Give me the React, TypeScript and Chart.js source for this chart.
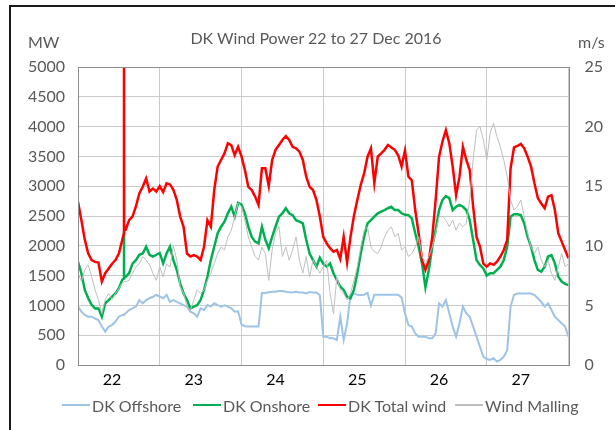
import { useEffect, useRef } from "react";
import { Chart, registerables } from "chart.js";

Chart.register(...registerables);

const dayLabels = ["22", "23", "24", "25", "26", "27"];

// hours since 22 Dec 00:00 (a short spike lies between hour 13 and 14)
const hours = [
  0, 1, 2, 3, 4, 5, 6, 7, 8, 9, 10, 11, 12, 13, 13.45, 13.5, 13.55,
  14, 15, 16, 17, 18, 19, 20, 21, 22, 23, 24, 25, 26, 27, 28, 29, 30, 31, 32, 33, 34, 35, 36, 37, 38, 39,
  40, 41, 42, 43, 44, 45, 46, 47, 48, 49, 50, 51, 52, 53, 54, 55, 56, 57, 58, 59, 60, 61, 62, 63, 64, 65,
  66, 67, 68, 69, 70, 71, 72, 73, 74, 75, 76, 77, 78, 79, 80, 81, 82, 83, 84, 85, 86, 87, 88, 89, 90, 91,
  92, 93, 94, 95, 96, 97, 98, 99, 100, 101, 102, 103, 104, 105, 106, 107, 108, 109, 110, 111, 112, 113,
  114, 115, 116, 117, 118, 119, 120, 121, 122, 123, 124, 125, 126, 127, 128, 129, 130, 131, 132, 133,
  134, 135, 136, 137, 138, 139, 140, 141, 142, 143, 144,
];

const offshoreMW = [
  980, 895, 840, 810, 810, 780, 755, 645, 560, 645, 670, 727, 810, 840, 840, 845, 850,
  867, 923, 950, 980, 1090, 1035, 1090, 1120, 1145, 1175, 1150, 1120, 1175, 1060, 1090, 1060, 1035, 1005, 980, 895, 867, 810, 950, 923, 1005, 980,
  1035, 1005, 980, 1000, 980, 950, 895, 900, 680, 650, 645, 645, 645, 645, 1210, 1210, 1220, 1230, 1230, 1240, 1240, 1230, 1220, 1215, 1230, 1215,
  1215, 1200, 1225, 1215, 1215, 1170, 475, 475, 447, 447, 420, 810, 420, 700, 1180, 1200, 1180, 1175, 1180, 1210, 1000, 1180, 1180, 1180, 1180, 1180,
  1180, 1180, 1180, 1130, 867, 670, 645, 530, 475, 475, 475, 447, 447, 530, 1035, 980, 1090, 867, 645, 475, 700, 980,
  867, 810, 645, 475, 307, 140, 100, 84, 112, 56, 84, 140, 250, 980, 1175, 1200, 1200, 1200, 1200, 1200,
  1175, 1120, 1060, 980, 1035, 923, 810, 755, 700, 645, 475,
];

const onshoreMW = [
  1730, 1540, 1260, 1120, 1010, 950, 950, 810, 1035, 1090, 1145, 1200, 1290, 1430, 1450, 2240, 1460,
  1480, 1540, 1700, 1760, 1850, 1870, 1985, 1850, 1820, 1850, 1880, 1705, 1870, 1985, 1760, 1595, 1370, 1200, 1090, 950, 980, 1005, 1090, 1260, 1480, 1760,
  1985, 2210, 2320, 2405, 2545, 2655, 2490, 2720, 2690, 2545, 2320, 2150, 2070, 2040, 2320, 2100, 1960, 2150, 2320, 2490, 2545, 2630, 2545, 2515, 2430, 2405,
  2375, 2100, 1870, 1760, 1650, 1800, 1700, 1650, 1705, 1540, 1425, 1315, 1260, 1145, 1120, 1260, 1540, 1870, 2150, 2375, 2430, 2490, 2545, 2575, 2600, 2630,
  2655, 2600, 2600, 2545, 2520, 2515, 2460, 2210, 1985, 1705, 1300, 1595, 1985, 2265, 2600, 2770, 2835, 2800, 2600, 2655, 2685, 2655,
  2600, 2430, 2100, 1760, 1680, 1620, 1500, 1540, 1540, 1595, 1650, 1760, 1985, 2490, 2530, 2530, 2515, 2375, 2150, 1985,
  1760, 1595, 1565, 1650, 1820, 1845, 1705, 1480, 1400, 1360, 1340,
];

const totalMW = [
  2740, 2430, 2100, 1870, 1760, 1730, 1720, 1400, 1540, 1620, 1700, 1760, 1870, 2100, 2200, 5600, 2250,
  2265, 2430, 2490, 2660, 2880, 2990, 3130, 2910, 2960, 2910, 3000, 2900, 3050, 3030, 2940, 2770, 2490, 2320, 1870, 1820, 1845, 1820, 1760, 1985, 2430, 2320,
  2936, 3330, 3440, 3550, 3720, 3690, 3520, 3660, 3500, 3270, 2990, 2936, 2825, 2685, 3300, 3300, 3000, 3440, 3610, 3690, 3775, 3840, 3775, 3660, 3635, 3580,
  3440, 3160, 2990, 2936, 2770, 2490, 2150, 2040, 1960, 1900, 1930, 1780, 2150, 1720, 2150, 2500, 2770, 3020, 3215, 3495, 3635, 3050, 3495, 3550, 3610, 3690,
  3650, 3610, 3520, 3330, 3600, 3160, 3100, 2600, 2210, 1760, 1595, 1760, 2150, 2770, 3495, 3750, 3940, 3720, 3330, 2850, 3160, 3660,
  3440, 3270, 2660, 2150, 1985, 1700, 1650, 1705, 1680, 1735, 1820, 1930, 2100, 3300, 3650, 3675, 3710, 3635, 3495, 3330,
  3050, 2800, 2710, 2630, 2825, 2850, 2600, 2210, 2070, 1930, 1790,
];

const mallingMS = [
  7.7, 7.0, 8.0, 8.4, 7.4, 6.3, 5.5, 4.3, 5.5, 6.0, 5.5, 6.0, 6.4, 6.9, 6.9, 6.9, 7.0,
  7.0, 7.1, 7.7, 8.25, 8.5, 9.1, 8.8, 8.4, 7.7, 7.1, 8.25, 7.4, 8.5, 8.2, 10.0, 8.8, 6.6, 6.0, 4.9, 4.6, 5.45, 6.3, 6.0, 6.3, 7.1, 7.7,
  8.5, 9.35, 9.9, 9.65, 10.75, 11.3, 12.45, 13.6, 13.3, 12.15, 10.75, 9.9, 9.1, 8.8, 9.9, 9.35, 7.1, 9.65, 11.05, 11.6, 9.1, 9.9, 8.8, 9.65, 10.75, 8.8,
  7.7, 9.1, 7.4, 8.8, 8.25, 7.7, 8.25, 8.8, 6.0, 4.3, 7.4, 6.3, 6.0, 5.45, 6.0, 7.1, 8.25, 9.9, 11.3, 11.6, 9.9, 9.5, 9.35, 9.9, 10.75, 11.3,
  11.6, 10.75, 11.05, 9.65, 9.9, 9.1, 9.35, 9.9, 10.75, 9.1, 8.5, 9.1, 9.9, 11.05, 12.45, 12.45, 12.15, 11.6, 12.15, 11.3, 11.9, 11.6,
  11.9, 13.85, 17.2, 19.7, 20.0, 18.9, 17.2, 19.45, 20.3, 19.15, 18.3, 17.2, 15.8, 13.85, 13.0, 13.3, 13.85, 12.45, 11.05, 9.9,
  9.35, 9.9, 8.8, 8.25, 8.8, 7.7, 7.1, 8.25, 9.35, 8.25, 8.5,
];

const seriesNames = ["DK Offshore", "DK Onshore", "DK Total wind", "Wind Malling"];
const seriesColors = ["#9DC3E6", "#00B050", "#FF0000", "#BFBFBF"];

const FONT = "Lato, 'Open Sans', sans-serif";
const TEXT = "#595959";
const GRID = "#CACACA";

const pts = (vals: number[]) => hours.map((h, i) => ({ x: h, y: vals[i] }));

const dayGrid = [0, 24, 48, 72, 96, 120, 144];
const dayTicks = [10, 34, 58, 82, 106, 130];

const legendLeft = [62, 193, 318, 455];
const legendLineWidth = [2, 2.5, 2.5, 1.5];

export default function App() {
  const ref = useRef<HTMLCanvasElement | null>(null);

  useEffect(() => {
    if (!ref.current) return;
    const frame = {
      id: "plotFrame",
      afterDatasetsDraw(chart: any) {
        const { ctx, chartArea: a } = chart;
        ctx.save();
        ctx.strokeStyle = "#8C8C8C";
        ctx.lineWidth = 1;
        ctx.strokeRect(Math.round(a.left) + 0.5, Math.round(a.top) + 0.5, Math.round(a.right - a.left), Math.round(a.bottom - a.top));
        ctx.restore();
      },
    };
    const series = [offshoreMW, onshoreMW, totalMW, mallingMS];
    const widths = [2, 2.5, 2.5, 1];
    const chart = new Chart(ref.current, {
      type: "line",
      data: {
        datasets: series.map((s, i) => ({
          label: seriesNames[i],
          data: pts(s),
          borderColor: seriesColors[i],
          backgroundColor: seriesColors[i],
          borderWidth: widths[i],
          yAxisID: i === 3 ? "y2" : "y",
          order: 3 - i,
        })),
      },
      options: {
        animation: false,
        responsive: false,
        layout: { padding: { top: 67, bottom: 41, left: 0, right: 0 } },
        elements: { point: { radius: 0 }, line: { tension: 0 } },
        plugins: {
          title: { display: false },
          tooltip: { enabled: false },
          legend: { display: false },
        },
        scales: {
          x: {
            type: "linear",
            min: 0,
            max: 144,
            afterBuildTicks: (axis: any) => {
              axis.ticks = [...dayGrid, ...dayTicks].sort((a, b) => a - b).map((v) => ({ value: v }));
            },
            afterFit: (axis: any) => {
              axis.height = 24;
            },
            ticks: {
              autoSkip: false,
              maxRotation: 0,
              padding: 5,
              color: "#000",
              font: { family: FONT, size: 16 },
              callback: (v: any) => {
                const i = dayTicks.indexOf(Number(v));
                return i >= 0 ? dayLabels[i] : "";
              },
            },
            grid: {
              drawTicks: false,
              color: (c: any) => (c.tick && dayGrid.includes(c.tick.value) ? GRID : "rgba(0,0,0,0)"),
            },
            border: { display: false },
          },
          y: {
            position: "left",
            min: 0,
            max: 5000,
            afterFit: (axis: any) => {
              axis.width = 78;
            },
            ticks: { stepSize: 500, padding: 13, color: TEXT, font: { family: FONT, size: 16 }, callback: (v: any) => String(v) },
            grid: { drawTicks: false, color: GRID },
            border: { display: false },
          },
          y2: {
            position: "right",
            min: 0,
            max: 25,
            afterFit: (axis: any) => {
              axis.width = 46.5;
            },
            ticks: { stepSize: 5, padding: 16, color: TEXT, font: { family: FONT, size: 16 }, callback: (v: any) => String(v) },
            grid: { display: false, drawTicks: false },
            border: { display: false },
          },
        },
      } as any,
      plugins: [frame],
    });
    return () => chart.destroy();
  }, []);

  return (
    <div style={{ position: "fixed", left: 0, top: 0, width: 615, height: 430, background: "#fff", overflow: "hidden", fontFamily: FONT }}>
      <div style={{ position: "absolute", left: 9, top: 5, width: 640, height: 460, borderTop: "2px solid #1a1a1a", borderLeft: "2px solid #1a1a1a" }} />
      <canvas ref={ref} width={615} height={430} style={{ position: "absolute", left: 0, top: 0, width: 615, height: 430 }} />
      <div style={{ position: "absolute", left: 28, top: 31, fontSize: 16, color: TEXT, lineHeight: "22px" }}>MW</div>
      <div style={{ position: "absolute", left: 316, top: 27, transform: "translateX(-50%)", whiteSpace: "nowrap", fontSize: 16, color: TEXT, lineHeight: "22px" }}>
        DK Wind Power 22 to 27 Dec 2016
      </div>
      <div style={{ position: "absolute", left: 578, top: 31, fontSize: 16, color: TEXT, lineHeight: "22px" }}>m/s</div>
      {seriesNames.map((name, i) => (
        <div
          key={name}
          style={{ position: "absolute", left: legendLeft[i], top: 394, height: 22, display: "flex", alignItems: "center", whiteSpace: "nowrap", fontSize: 16, color: TEXT }}
        >
          <span style={{ display: "inline-block", width: 28, height: legendLineWidth[i], background: seriesColors[i], marginRight: 2 }} />
          <span>{name}</span>
        </div>
      ))}
    </div>
  );
}
